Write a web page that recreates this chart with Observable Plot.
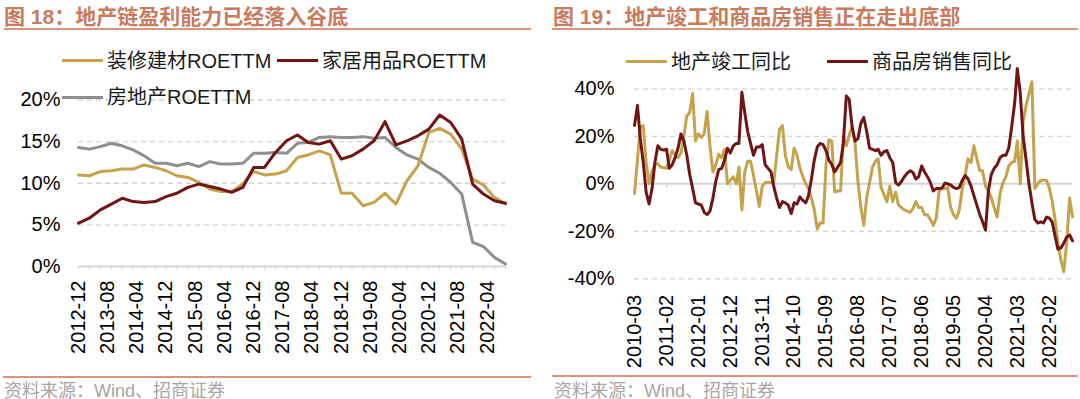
<!DOCTYPE html>
<html><head><meta charset="utf-8">
<script src="https://cdn.jsdelivr.net/npm/d3@7"></script>
<script src="https://cdn.jsdelivr.net/npm/@observablehq/plot@0.6"></script>
<style>
body{margin:0;background:#fff;width:1080px;height:399px;overflow:hidden;position:relative;font-family:"Liberation Sans",Arial,"Noto Sans CJK SC",sans-serif;}
.title{position:absolute;top:6px;line-height:21px;font-size:21px;font-weight:bold;color:#c97b5d;white-space:nowrap;}
.rule{position:absolute;height:2px;background:#d9957c;}
.src{position:absolute;top:382px;line-height:18px;font-size:18px;color:#a6a6a6;white-space:nowrap;}
.chart{position:absolute;top:35px;}
.leg{position:absolute;height:24px;font-size:20px;line-height:24px;color:#1a1a1a;white-space:nowrap;display:flex;align-items:center;}
.sw{display:inline-block;width:41px;height:3px;margin-right:4px;}
</style>
</head><body>
<div class="title" style="left:4px">图 18：地产链盈利能力已经落入谷底</div>
<div class="rule" style="left:4px;width:527px;top:28px"></div>
<div class="title" style="left:553px">图 19：地产竣工和商品房销售正在走出底部</div>
<div class="rule" style="left:552px;width:526px;top:28px"></div>
<div id="left" class="chart" style="left:0"></div>
<div id="right" class="chart" style="left:540px"></div>
<div class="rule" style="left:3px;width:528px;top:376px"></div>
<div class="rule" style="left:552px;width:526px;top:375px"></div>
<div class="src" style="left:4px">资料来源：Wind、招商证券</div>
<div class="src" style="left:554px">资料来源：Wind、招商证券</div>
<div id="legends"></div>
<script>
// ---------- Left chart data (quarterly ROE TTM, %) ----------
const roeStart = "2012-12";
const roeNames = ["装修建材ROETTM", "家居用品ROETTM", "房地产ROETTM"];
const roeColors = ["#c6a24c", "#701414", "#8f8f8f"];
const roeDecor = [11.0,10.9,11.4,11.5,11.7,11.7,12.2,11.9,11.5,10.9,10.7,10.1,9.3,9.0,9.0,9.9,11.4,11.0,11.1,11.5,13.1,13.4,13.9,13.4,8.8,8.8,7.3,7.7,8.8,7.5,10.3,12.1,16.1,16.6,15.9,14.1,10.5,9.8,8.3,7.5];
const roeHome = [5.2,5.8,6.8,7.5,8.2,7.8,7.7,7.8,8.4,8.8,9.5,9.9,9.6,9.3,8.9,9.5,11.9,11.9,13.7,15.1,15.8,14.9,14.7,15.1,12.9,13.3,14.1,15.1,17.4,14.6,15.1,15.7,16.5,18.2,17.3,15.3,9.9,8.7,7.9,7.6];
const roeRealty = [14.3,14.1,14.4,14.8,14.5,14.0,13.3,12.4,12.4,12.1,12.4,12.0,12.6,12.3,12.3,12.4,13.6,13.6,13.7,13.6,14.8,14.9,15.5,15.6,15.5,15.5,15.6,15.4,15.5,14.3,13.4,12.9,11.9,11.2,10.1,8.7,2.9,2.4,1.1,0.3];
const leftTickLabels = ["2012-12","2013-08","2014-04","2014-12","2015-08","2016-04","2016-12","2017-08","2018-04","2018-12","2019-08","2020-04","2020-12","2021-08","2022-04"];
const leftYTicks = [0,5,10,15,20];

// ---------- Right chart data (monthly YoY, %) ----------
const yoyStart = "2010-03";
const yoyNames = ["地产竣工同比", "商品房销售同比"];
const yoyColors = ["#c6a24c", "#701414"];
const completion = [
 -4,10,24,24.5,9,0,5,8,8.5,7,
 6.8,6.5,10,14,12,11,13,20,28.5,30,
 38,18,21,19.5,21,30.5,16,5,8,12.5,
 11,14.5,0,1.5,3,0,7,-11,5,9.5,
 9.5,3.5,-3,-9.5,-1,0.5,0.5,0.5,0.5,12,
 23,24.5,12,7,6,15,12,6.5,3,0,
 -2,-6,-11,-19,-16.5,-16.5,8,18.5,18,-3.5,
 -3,-3,20,16,20.5,24,17.5,1,-10,-17.5,
 -6,0.5,7,9.5,10.5,-1.5,-4.5,-7.5,-1,-7.5,
 -3.5,-9,-10,-11,-11.5,-12,-10.5,-7.5,-10,-10,
 -13,-13,-15,-17.5,-14.5,-3,-2,-2,-1.5,-10,
 -13,-14.5,-11,-2,4,10.5,9,16,10.5,5.5,
 5.5,-1,-3,-6,-10,-14,-4,0.5,3,7.5,
 9,9.5,18,0,26,33,38,43,-2,0,
 1.5,1.5,1.5,-2,-7,-15,-25,-32,-37,-25,
 -6,-14];
const sales = [
 24.6,33,19,9,-3.5,-8.5,-2,9,16,14.5,
 14.2,14.5,6.5,8,11,15,21,18,12,4,
 -2,-8,-8.5,-9,-12,-13,-11.5,-6,1,6,
 6.5,10,15,13,16,17,17,38.5,30,22,
 17,12,15.5,15.5,16.5,8,6.5,5,-1,-6,
 -10,-7.5,-8,-9,-12.5,-8,-8.5,-5.5,-7,-8,
 -5,2,10,15.5,17,16.5,14,10,8,5,
 7,9,17,37,35.5,24,18,19,25.5,28,
 22,15,14.5,14,14.5,12,13.5,14,11,9,
 0.5,-0.5,1,3,4.5,5.5,4.8,2,3,7.5,
 5,3,0.5,-3,-2,-2,-1.8,0.3,0,-0.5,
 -1.5,-2,-1.5,1.5,3.5,2,-1,-5,-9,-13,
 -16,-19.5,-3,4,6.5,8,11,12,12,15,
 24,34,48.5,38,20,10,0,-8,-15,-16.5,
 -16,-16.5,-14,-14.5,-16,-22,-27.5,-27,-25,-22.5,
 -21.5,-24];
const rightTickLabels = ["2010-03","2011-02","2012-01","2012-12","2013-11","2014-10","2015-09","2016-08","2017-07","2018-06","2019-05","2020-04","2021-03","2022-02"];
const rightAxisTickLabels = ["2011-02","2012-12","2014-10","2016-08","2018-06","2020-04","2022-02"];
const rightYTicks = [-40,-20,0,20,40];

// ---------- build ----------
const parseM = d3.utcParse("%Y-%m");
const fmtM = d3.utcFormat("%Y-%m");
const qDates = roeDecor.map((_, i) => d3.utcMonth.offset(parseM(roeStart), 3 * i));
const mDates = sales.map((_, i) => d3.utcMonth.offset(parseM(yoyStart), i));

// draw order: 房地产, 装修建材, 家居用品
const roeDraw = [[roeRealty, roeNames[2]], [roeDecor, roeNames[0]], [roeHome, roeNames[1]]];
const roeRows = roeDraw.flatMap(([arr, name]) => arr.map((v, i) => ({date: qDates[i], value: v, name})));

const font = '"Liberation Sans", Arial, "Noto Sans CJK SC", sans-serif';
const gridStyle = {stroke: "#d4d4d4", strokeOpacity: 1, strokeDasharray: "5,4", strokeWidth: 1.3};

const left = Plot.plot({
  width: 540, height: 335,
  marginLeft: 78, marginRight: 35, marginTop: 64.5, marginBottom: 104,
  x: {type: "utc", domain: [qDates[0], qDates[qDates.length - 1]]},
  y: {domain: [0, 20]},
  color: {domain: roeNames, range: roeColors},
  style: {fontFamily: font, fontSize: "20px", color: "#000", background: "transparent", overflow: "visible"},
  marks: [
    Plot.gridY(leftYTicks.filter(d => d > 0), gridStyle),
    Plot.ruleY([0], {stroke: "#d4d4d4", strokeWidth: 2}),
    Plot.ruleX(qDates, {x: d => d, y1: 0, y2: -0.45, stroke: "#d4d4d4", strokeWidth: 1}),
    Plot.axisY({ticks: leftYTicks, tickFormat: d => d + "%", tickSize: 0, tickPadding: 18, fontSize: 20, label: null}),
    Plot.axisX({ticks: leftTickLabels.map(parseM), tickFormat: fmtM, tickRotate: -90, tickSize: 0, tickPadding: 14, fontSize: 20, label: null}),
    Plot.line(roeRows, {x: "date", y: "value", z: "name", stroke: "name", strokeWidth: 3, strokeLinejoin: "round"})
  ]
});
document.getElementById("left").append(left);

const yoyRows = [completion, sales].flatMap((arr, k) => arr.map((v, i) => ({date: mDates[i], value: v, name: yoyNames[k]})));

const right = Plot.plot({
  width: 540, height: 335,
  marginLeft: 94, marginRight: 8, marginTop: 53.3, marginBottom: 91.7,
  x: {type: "utc", domain: [mDates[0], mDates[mDates.length - 1]]},
  y: {domain: [-40, 40]},
  color: {domain: yoyNames, range: yoyColors},
  style: {fontFamily: font, fontSize: "20px", color: "#000", background: "transparent", overflow: "visible"},
  marks: [
    Plot.gridY(rightYTicks.filter(d => d !== 0), gridStyle),
    Plot.ruleY([0], {stroke: "#d4d4d4", strokeWidth: 2}),
    Plot.ruleX(rightAxisTickLabels.map(parseM), {x: d => d, y1: 0, y2: -2, stroke: "#d4d4d4", strokeWidth: 1.5}),
    Plot.axisY({ticks: rightYTicks, tickFormat: d => d + "%", tickSize: 0, tickPadding: 20, fontSize: 20, label: null}),
    Plot.axisX({ticks: rightTickLabels.map(parseM), tickFormat: fmtM, tickRotate: -90, tickSize: 0, tickPadding: 16, fontSize: 20, label: null}),
    Plot.line(yoyRows, {x: "date", y: "value", z: "name", stroke: "name", strokeWidth: 3, strokeLinejoin: "round"})
  ]
});
document.getElementById("right").append(right);

// ---------- legends ----------
const legendItems = [
  {name: roeNames[0], color: roeColors[0], left: 62, cy: 60.6},
  {name: roeNames[1], color: roeColors[1], left: 277, cy: 60.6},
  {name: roeNames[2], color: roeColors[2], left: 62, cy: 97},
  {name: yoyNames[0], color: yoyColors[0], left: 626, cy: 61.6},
  {name: yoyNames[1], color: yoyColors[1], left: 827, cy: 61.6}
];
const lg = document.getElementById("legends");
for (const it of legendItems) {
  const d = document.createElement("div");
  d.className = "leg";
  d.style.left = it.left + "px";
  d.style.top = (it.cy - 12) + "px";
  const s = document.createElement("span");
  s.className = "sw";
  s.style.background = it.color;
  d.append(s, document.createTextNode(it.name));
  lg.append(d);
}
</script>
</body></html>
